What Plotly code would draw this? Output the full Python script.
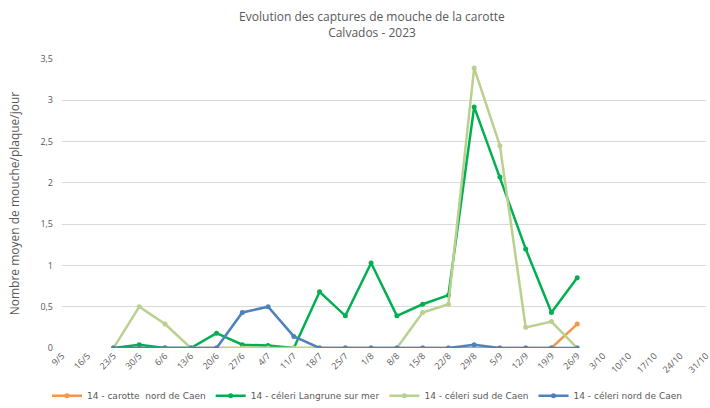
import plotly.graph_objects as go

dates = ["9/5","16/5","23/5","30/5","6/6","13/6","20/6","27/6","4/7","11/7","18/7","25/7",
         "1/8","8/8","15/8","22/8","29/8","5/9","12/9","19/9","26/9","3/10","10/10","17/10","24/10","31/10"]

carotte_nord = [None,None,0,0,0,0,0,0,0,0,0,0,0,0,0,0,0,0,0,0,0.29,None,None,None,None,None]
celeri_langrune = [None,None,0,0.04,0,0,0.18,0.04,0.03,0,0.68,0.39,1.03,0.39,0.53,0.64,2.92,2.07,1.2,0.43,0.85,None,None,None,None,None]
celeri_sud = [None,None,0,0.5,0.29,0,0,0,0,0,0,0,0,0,0.43,0.53,3.39,2.45,0.25,0.32,0,None,None,None,None,None]
celeri_nord = [None,None,0,0,0,0,0,0.43,0.5,0.14,0,0,0,0,0,0,0.04,0,0,0,0,None,None,None,None,None]

series = [
    ("14 - carotte  nord de Caen", carotte_nord, "#F79646"),
    ("14 - céleri Langrune sur mer", celeri_langrune, "#00B050"),
    ("14 - céleri sud de Caen", celeri_sud, "#B9D18F"),
    ("14 - céleri nord de Caen", celeri_nord, "#4F81BD"),
]

fig = go.Figure()
for name, vals, col in series:
    fig.add_trace(go.Scatter(x=dates, y=vals, name=name, mode="lines+markers",
                             line=dict(color=col, width=2.5), marker=dict(color=col, size=5),
                             connectgaps=False))

fig.update_layout(
    width=710, height=408,
    margin=dict(l=62, r=4, t=59, b=60, autoexpand=False),
    paper_bgcolor="white", plot_bgcolor="white",
    font=dict(family="Open Sans, DejaVu Sans, sans-serif", color="#595959"),
    title=dict(text="Evolution des captures de mouche de la carotte<br>Calvados - 2023",
               x=372/710, xanchor="center", yref="container", y=1 - 21/408, yanchor="middle",
               font=dict(size=12, family="Open Sans, sans-serif", color="#595959")),
    showlegend=True,
    legend=dict(orientation="h", x=(47-62)/644, xref="paper", xanchor="left", y=-0.165, yanchor="middle",
                font=dict(size=9, family="DejaVu Sans, sans-serif", color="#595959"),
                itemwidth=30, tracegroupgap=0),
    xaxis=dict(type="category", categoryorder="array", categoryarray=dates,
               range=[0, 25], tickangle=-45, tickfont=dict(size=9, color="#595959"),
               showgrid=False, showline=False, zeroline=False, ticks="", automargin=False),
    yaxis=dict(range=[0, 3.5], dtick=0.5, tickformat=".1~f",
               tickfont=dict(size=9, color="#595959"), gridcolor="#D9D9D9", gridwidth=1,
               zeroline=False, showline=False, ticks="", ticklabelstandoff=8, automargin=False,
               title=dict(text="Nombre moyen de mouche/plaque/jour", font=dict(size=12, color="#595959"), standoff=18)),
    separators=", ",
)

fig.write_html("out.html", config={"displayModeBar": False},
               post_script="document.body.style.margin='0';document.body.style.overflow='hidden';")
